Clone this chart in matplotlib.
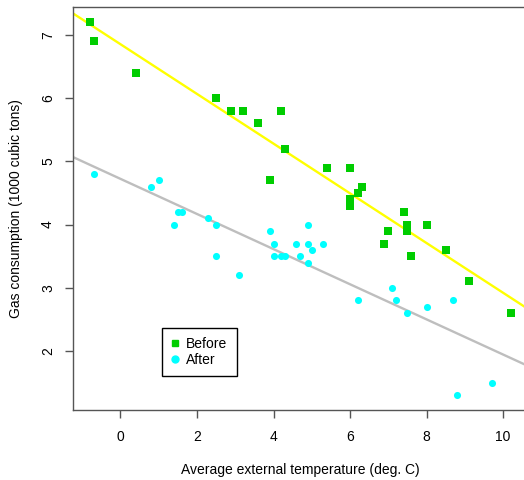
import numpy as np
import matplotlib
matplotlib.use("Agg")
import matplotlib.pyplot as plt
from matplotlib.lines import Line2D

plt.rcParams['font.family'] = ['Liberation Sans', 'DejaVu Sans']

before_temp = [-0.8, -0.7, 0.4, 2.5, 2.9, 3.2, 3.6, 3.9, 4.2, 4.3, 5.4, 6.0, 6.0, 6.0,
               6.2, 6.3, 6.9, 7.0, 7.4, 7.5, 7.5, 7.6, 8.0, 8.5, 9.1, 10.2]
before_gas = [7.2, 6.9, 6.4, 6.0, 5.8, 5.8, 5.6, 4.7, 5.8, 5.2, 4.9, 4.9, 4.3, 4.4,
              4.5, 4.6, 3.7, 3.9, 4.2, 4.0, 3.9, 3.5, 4.0, 3.6, 3.1, 2.6]
after_temp = [-0.7, 0.8, 1.0, 1.4, 1.5, 1.6, 2.3, 2.5, 2.5, 3.1, 3.9, 4.0, 4.0, 4.2, 4.3,
              4.6, 4.7, 4.9, 4.9, 4.9, 5.0, 5.3, 6.2, 7.1, 7.2, 7.5, 8.0, 8.7, 8.8, 9.7]
after_gas = [4.8, 4.6, 4.7, 4.0, 4.2, 4.2, 4.1, 4.0, 3.5, 3.2, 3.9, 3.5, 3.7, 3.5, 3.5,
             3.7, 3.5, 3.4, 3.7, 4.0, 3.6, 3.7, 2.8, 3.0, 2.8, 2.6, 2.7, 2.8, 1.3, 1.5]
xticks = [0, 2, 4, 6, 8, 10]
yticks = [2, 3, 4, 5, 6, 7]

fig = plt.figure(figsize=(5.24, 4.8), dpi=100)
ax = fig.add_axes([73/524, 69.8/480, 454.6/524, 402.8/480])
ax.set_xlim(-1.24, 10.64)
ax.set_ylim(1.064, 7.436)

xs = np.array([-1.24, 10.64])
for t, g, c in [(before_temp, before_gas, '#FFFF00'), (after_temp, after_gas, '#BEBEBE')]:
    m, b = np.polyfit(t, g, 1)
    ax.plot(xs, m * xs + b, color=c, lw=1.7, zorder=1)

ax.scatter(before_temp, before_gas, marker='s', s=26, color='#00CD00', zorder=3, linewidths=0)
ax.scatter(after_temp, after_gas, marker='o', s=26, color='#00FFFF', zorder=3, linewidths=0)

for sp in ax.spines.values():
    sp.set_color('#555555')
    sp.set_linewidth(1)
ax.set_xticks(xticks)
ax.set_yticks(yticks)
ax.tick_params(length=6, width=1, color='#555555', labelsize=10, pad=8)
ax.tick_params(axis='y', labelrotation=90, pad=7)
for lab in ax.get_yticklabels():
    lab.set_va('center')
ax.set_xlabel('Average external temperature (deg. C)', fontsize=10, labelpad=14)
ax.set_ylabel('Gas consumption (1000 cubic tons)', fontsize=10, labelpad=13)

handles = [Line2D([], [], marker='s', ls='none', color='#00CD00', markersize=5),
           Line2D([], [], marker='o', ls='none', color='#00FFFF', markersize=5)]
leg = ax.legend(handles, ['Before', 'After'], loc='lower left',
                bbox_to_anchor=((162-73)/454.6, (410.2-376)/402.8),
                fancybox=False, edgecolor='black', framealpha=1, fontsize=10,
                handlelength=0.5, handletextpad=0.6, borderpad=0.65, labelspacing=0.15,
                borderaxespad=0)
leg.get_frame().set_linewidth(1)

fig.savefig('out.png', dpi=100)
